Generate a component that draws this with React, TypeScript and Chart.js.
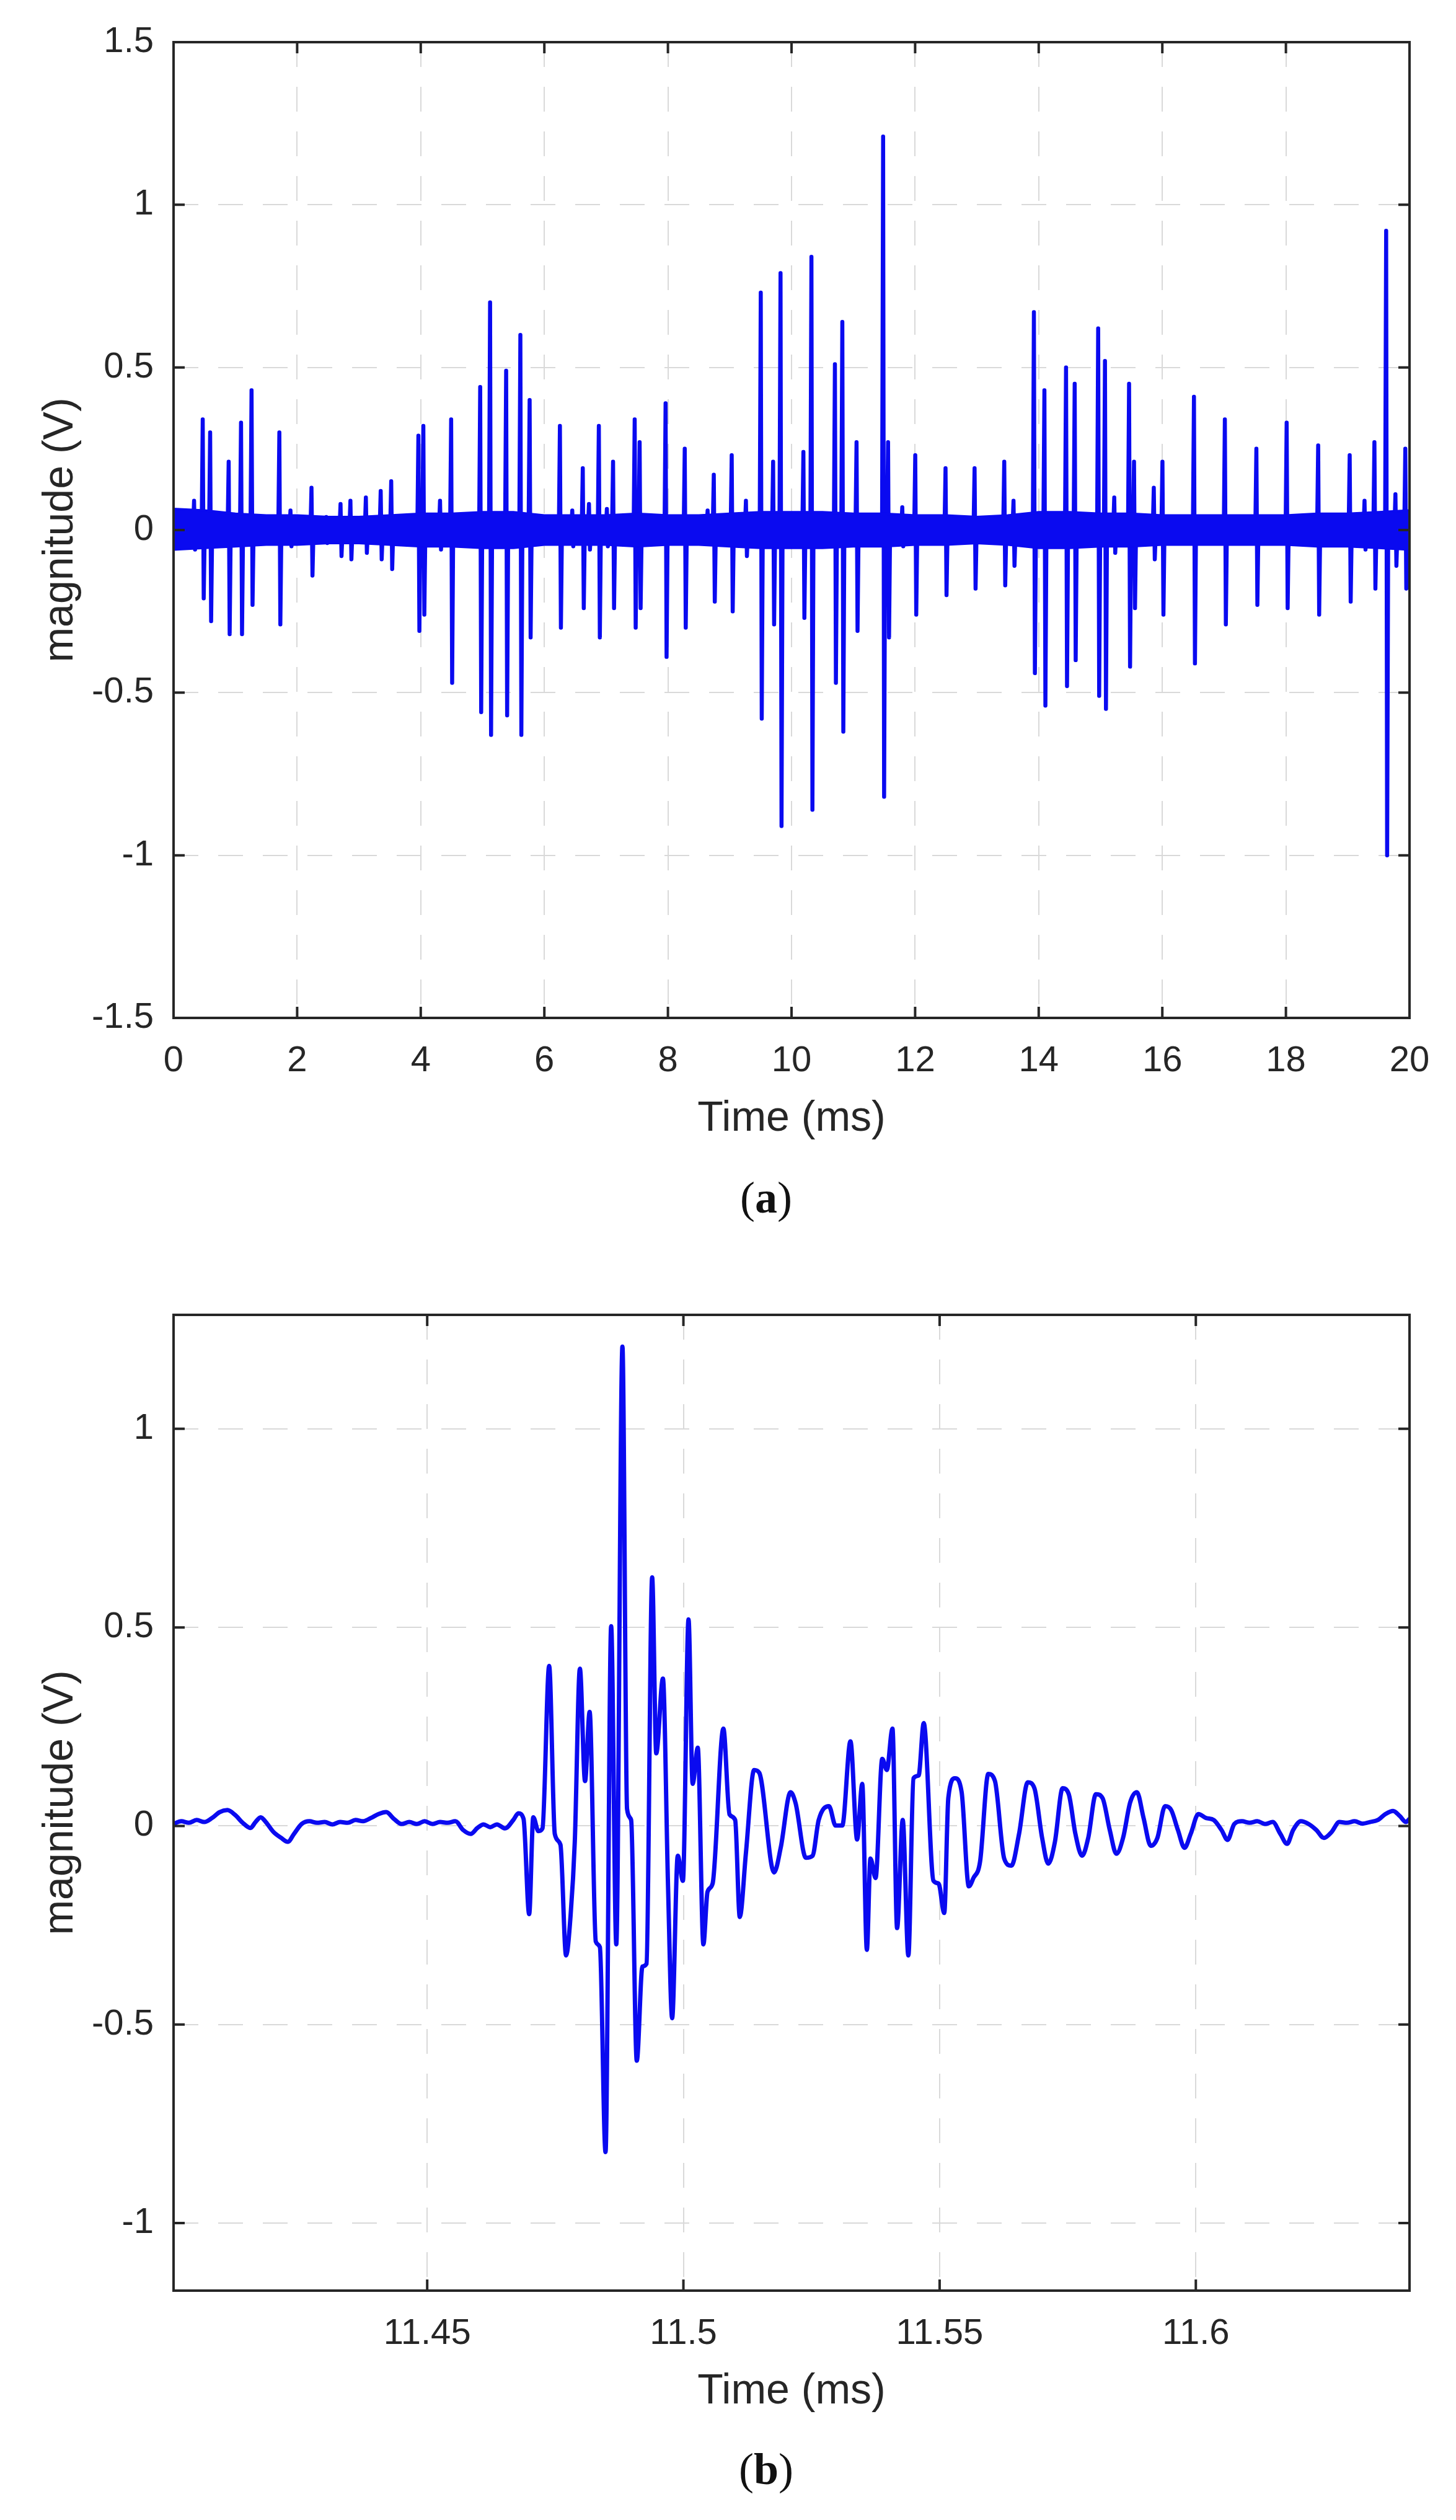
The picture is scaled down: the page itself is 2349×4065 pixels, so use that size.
import React, { useEffect, useRef } from "react";
import { Chart, registerables } from "chart.js";

Chart.register(...registerables);

// ---------------- Chart (a): 20 ms record ----------------
const xTicksA = [0, 2, 4, 6, 8, 10, 12, 14, 16, 18, 20];
const xTickLabelsA = ["0", "2", "4", "6", "8", "10", "12", "14", "16", "18", "20"];
const yTicksA = [-1.5, -1, -0.5, 0, 0.5, 1, 1.5];
const yTickLabelsA = ["-1.5", "-1", "-0.5", "0", "0.5", "1", "1.5"];

// discharge pulses: time (ms), positive peak (V), negative peak (V)
const spikeTimesA = [
  0.34, 0.48, 0.6, 0.9, 1.1, 1.27, 1.72, 1.9, 2.24, 2.48, 2.71, 2.87, 3.12, 3.36, 3.53,
  3.97, 4.05, 4.32, 4.5, 4.97, 5.13, 5.39, 5.62, 5.77, 6.26, 6.46, 6.63, 6.73, 6.89, 7.02,
  7.12, 7.47, 7.55, 7.97, 8.28, 8.65, 8.75, 9.04, 9.27, 9.51, 9.71, 9.83, 10.2, 10.33,
  10.71, 10.83, 11.06, 11.49, 11.57, 11.8, 12.01, 12.5, 12.97, 13.45, 13.6, 13.93, 14.1,
  14.45, 14.59, 14.97, 15.08, 15.23, 15.47, 15.55, 15.87, 16.01, 16.52, 17.02, 17.53,
  18.02, 18.53, 19.04, 19.28, 19.44, 19.63, 19.78, 19.94,
];
const spikePeaksA = [
  0.09, 0.34, 0.3, 0.21, 0.33, 0.43, 0.3, 0.06, 0.13, 0.04, 0.08, 0.09, 0.1, 0.12, 0.15,
  0.29, 0.32, 0.09, 0.34, 0.44, 0.7, 0.49, 0.6, 0.4, 0.32, 0.06, 0.19, 0.08, 0.32, 0.065,
  0.21, 0.34, 0.27, 0.39, 0.25, 0.06, 0.17, 0.23, 0.09, 0.73, 0.21, 0.79, 0.24, 0.84,
  0.51, 0.64, 0.27, 1.21, 0.27, 0.07, 0.23, 0.19, 0.19, 0.21, 0.09, 0.67, 0.43,
  0.5, 0.45, 0.62, 0.52, 0.1, 0.45, 0.21, 0.13, 0.21, 0.41, 0.34, 0.25,
  0.33, 0.26, 0.23, 0.09, 0.27, 0.92, 0.11, 0.25,
];
const spikeTroughsA = [
  -0.06, -0.21, -0.28, -0.32, -0.32, -0.23, -0.29, -0.05, -0.14, -0.04, -0.08, -0.09, -0.07, -0.09, -0.12,
  -0.31, -0.26, -0.06, -0.47, -0.56, -0.63, -0.57, -0.63, -0.33, -0.3, -0.05, -0.24, -0.06, -0.33, -0.05,
  -0.24, -0.3, -0.24, -0.39, -0.3, -0.04, -0.22, -0.25, -0.08, -0.58, -0.29, -0.91, -0.27, -0.86,
  -0.47, -0.62, -0.31, -0.82, -0.33, -0.05, -0.26, -0.2, -0.18, -0.17, -0.11, -0.44, -0.54,
  -0.48, -0.4, -0.51, -0.55, -0.07, -0.42, -0.24, -0.09, -0.26, -0.41, -0.29, -0.23,
  -0.24, -0.26, -0.22, -0.06, -0.18, -1.0, -0.11, -0.18,
];

// background noise envelope (V)
const bandTimesA = [
  0, 0.5, 1, 1.5, 2, 2.5, 3, 3.5, 4, 4.5, 5, 5.5, 6, 6.5, 7, 7.5, 8, 8.5, 9, 9.5, 10,
  10.5, 11, 11.5, 12, 12.5, 13, 13.5, 14, 14.5, 15, 15.5, 16, 16.5, 17, 17.5, 18, 18.5, 19, 19.5, 20,
];
const bandUpperA = [
  0.065, 0.06, 0.05, 0.045, 0.045, 0.04, 0.04, 0.045, 0.05, 0.05, 0.055, 0.055, 0.045, 0.045, 0.045,
  0.05, 0.045, 0.045, 0.05, 0.055, 0.055, 0.055, 0.05, 0.05, 0.045, 0.045, 0.04, 0.045, 0.055, 0.055,
  0.05, 0.05, 0.045, 0.045, 0.045, 0.045, 0.045, 0.05, 0.05, 0.055, 0.06,
];
const bandLowerA = [
  -0.06, -0.055, -0.05, -0.045, -0.045, -0.04, -0.04, -0.045, -0.05, -0.05, -0.055, -0.055, -0.045, -0.045, -0.045,
  -0.05, -0.045, -0.045, -0.05, -0.055, -0.055, -0.055, -0.05, -0.05, -0.045, -0.045, -0.04, -0.045, -0.055, -0.055,
  -0.05, -0.05, -0.045, -0.045, -0.045, -0.045, -0.045, -0.05, -0.05, -0.055, -0.06,
];

// ---------------- Chart (b): zoom on the largest pulse ----------------
const xRangeB = [11.4005, 11.6417];
const yRangeB = [-1.17, 1.287];
const xTicksB = [11.45, 11.5, 11.55, 11.6];
const xTickLabelsB = ["11.45", "11.5", "11.55", "11.6"];
const yTicksB = [-1, -0.5, 0, 0.5, 1];
const yTickLabelsB = ["-1", "-0.5", "0", "0.5", "1"];

const timesB = [
  11.4005, 11.402, 11.4035, 11.405, 11.4065, 11.408, 11.4095, 11.411, 11.4125, 11.414,
  11.4155, 11.4165, 11.4175, 11.4185, 11.42, 11.4215, 11.4228, 11.424, 11.4255, 11.427,
  11.4285, 11.43, 11.4315, 11.433, 11.4345, 11.436, 11.4375, 11.439, 11.4405, 11.442,
  11.4435, 11.445, 11.4465, 11.448, 11.4495, 11.451, 11.4525, 11.454, 11.4555, 11.457,
  11.4585, 11.4598,
  11.461, 11.4623, 11.4636, 11.4652, 11.4668, 11.4678, 11.4688, 11.4699, 11.4707, 11.4717,
  11.4725, 11.4738, 11.4749, 11.476, 11.4771, 11.478, 11.4788, 11.4798, 11.4808, 11.4817,
  11.4829, 11.4837, 11.4848, 11.4859, 11.4869, 11.4881, 11.489, 11.4898, 11.4909, 11.492,
  11.4928, 11.4939, 11.4947, 11.496, 11.497, 11.4978, 11.4989, 11.4999, 11.501, 11.5018,
  11.5028, 11.5039, 11.5047, 11.5057, 11.5078, 11.509, 11.5101, 11.511, 11.5122, 11.5138,
  11.5148, 11.5177, 11.519, 11.5209, 11.5219, 11.5239, 11.5252, 11.5264, 11.5284, 11.5297,
  11.531, 11.5326, 11.5339, 11.5349, 11.5358, 11.5365, 11.5375, 11.5388, 11.5397, 11.5408,
  11.5417, 11.5428, 11.5439, 11.5449, 11.5459, 11.5469, 11.5488, 11.5498, 11.5509, 11.5517,
  11.553, 11.5543, 11.5557, 11.5566, 11.5579, 11.5595, 11.5608, 11.5626,
  11.564, 11.5655, 11.5672, 11.5685, 11.57, 11.5712, 11.5725, 11.574, 11.5752, 11.5765,
  11.5778, 11.579, 11.5805, 11.5818, 11.5832, 11.5845, 11.5858, 11.5872, 11.5885, 11.5898,
  11.5912, 11.5925, 11.594, 11.5952, 11.5965, 11.5978, 11.599, 11.6005, 11.602, 11.6035,
  11.605, 11.6062, 11.6075, 11.609, 11.6105, 11.612, 11.6135, 11.615, 11.6165, 11.6178,
  11.619, 11.6205, 11.622, 11.6235, 11.625, 11.6265, 11.628, 11.6295, 11.631, 11.6325,
  11.634, 11.6355, 11.637, 11.6385, 11.6398, 11.641, 11.6417,
];
const valuesB = [
  0.005, 0.012, 0.008, 0.015, 0.01, 0.02, 0.035, 0.04, 0.028, 0.008,
  -0.005, 0.01, 0.022, 0.01, -0.015, -0.03, -0.04, -0.02, 0.005, 0.012,
  0.008, 0.01, 0.004, 0.01, 0.008, 0.015, 0.012, 0.02, 0.03, 0.035,
  0.018, 0.005, 0.01, 0.005, 0.012, 0.005, 0.01, 0.008, 0.012, -0.01,
  -0.02, -0.005,
  0.004, -0.003, 0.004, -0.006, 0.015, 0.032, 0.018, -0.222, 0.022, -0.013,
  -0.006, 0.403, -0.02, -0.047, -0.326, -0.222, -0.04, 0.396, 0.113, 0.287,
  -0.291, -0.305, -0.821, 0.503, -0.298, 1.207, 0.043, 0.015, -0.591, -0.354,
  -0.347, 0.626, 0.183, 0.371, -0.152, -0.484, -0.075, -0.138, 0.52, 0.106,
  0.197, -0.298, -0.166, -0.145, 0.245, 0.029, 0.015, -0.229, -0.068, 0.141,
  0.134, -0.117, -0.054, 0.085, 0.057, -0.08, -0.075, 0.015, 0.05, 0.001,
  0.001, 0.213, -0.034, 0.106, -0.312, -0.082, -0.131, 0.169, 0.141, 0.245,
  -0.257, 0.015, -0.326, 0.12, 0.127, 0.259, -0.138, -0.145, -0.219, 0.071,
  0.12, 0.085, -0.152, -0.131, -0.089, 0.131, 0.113, -0.082,
  -0.1, -0.02, 0.11, 0.095, -0.03, -0.095, -0.04, 0.095, 0.08, -0.02,
  -0.075, -0.03, 0.08, 0.07, -0.01, -0.07, -0.03, 0.06, 0.085, 0.02,
  -0.05, -0.03, 0.05, 0.04, -0.01, -0.055, -0.02, 0.03, 0.02, 0.015,
  -0.01, -0.035, 0.005, 0.012, 0.008, 0.012, 0.005, 0.01, -0.02, -0.045,
  -0.01, 0.012, 0.005, -0.01, -0.03, -0.015, 0.01, 0.008, 0.012, 0.006,
  0.01, 0.015, 0.03, 0.038, 0.025, 0.01, 0.018,
];

// ---------------- styling ----------------
const BLUE = "#0a0af0";
const AXIS_COLOR = "#262626";
const GRID_COLOR = "#d9d9d9";
const FONT = "'Liberation Sans', Arial, Helvetica, sans-serif";
const TICK_LEN = 18;

const framePlugin = {
  id: "matlabFrame",
  afterDraw(chart: any) {
    const { ctx, chartArea } = chart;
    const { left, right, top, bottom } = chartArea;
    const xs = chart.scales.x;
    const ys = chart.scales.y;
    ctx.save();
    ctx.strokeStyle = AXIS_COLOR;
    ctx.lineWidth = 4;
    ctx.beginPath();
    xs.ticks.forEach((t: any) => {
      const px = xs.getPixelForValue(t.value);
      ctx.moveTo(px, bottom);
      ctx.lineTo(px, bottom - TICK_LEN);
      ctx.moveTo(px, top);
      ctx.lineTo(px, top + TICK_LEN);
    });
    ys.ticks.forEach((t: any) => {
      const py = ys.getPixelForValue(t.value);
      ctx.moveTo(left, py);
      ctx.lineTo(left + TICK_LEN, py);
      ctx.moveTo(right, py);
      ctx.lineTo(right - TICK_LEN, py);
    });
    ctx.stroke();
    ctx.strokeRect(left, top, right - left, bottom - top);
    ctx.restore();
  },
};

function makeScales(p: {
  xMin: number; xMax: number; yMin: number; yMax: number;
  xTicks: number[]; xLabels: string[]; yTicks: number[]; yLabels: string[];
  xAxisHeight: number; xTitlePadBottom: number;
}) {
  const gridCommon = { color: GRID_COLOR, lineWidth: 2, drawTicks: false };
  const borderCommon = { display: false, dash: [40, 32] };
  return {
    x: {
      type: "linear",
      min: p.xMin,
      max: p.xMax,
      grid: gridCommon,
      border: borderCommon,
      afterBuildTicks: (s: any) => { s.ticks = p.xTicks.map((v) => ({ value: v })); },
      afterFit: (s: any) => { s.height = p.xAxisHeight; },
      ticks: {
        autoSkip: false,
        maxRotation: 0,
        padding: 35,
        color: AXIS_COLOR,
        font: { family: FONT, size: 58 },
        callback: (_v: any, i: number) => p.xLabels[i],
      },
      title: {
        display: true,
        text: "Time (ms)",
        color: AXIS_COLOR,
        font: { family: FONT, size: 68 },
        padding: { top: 0, bottom: p.xTitlePadBottom },
      },
    },
    y: {
      type: "linear",
      min: p.yMin,
      max: p.yMax,
      grid: gridCommon,
      border: borderCommon,
      afterBuildTicks: (s: any) => { s.ticks = p.yTicks.map((v) => ({ value: v })); },
      afterFit: (s: any) => { s.width = 280; },
      ticks: {
        autoSkip: false,
        padding: 32,
        color: AXIS_COLOR,
        font: { family: FONT, size: 58 },
        callback: (_v: any, i: number) => p.yLabels[i],
      },
      title: {
        display: true,
        text: "magnitude (V)",
        color: AXIS_COLOR,
        font: { family: FONT, size: 68 },
        padding: { top: 57, bottom: 0 },
      },
    },
  };
}

const W = 2349;
const A_TOP = 0;
const A_H = 1860;
const B_TOP = 1980;
const B_H = 1940;

function ChartA() {
  const ref = useRef<HTMLCanvasElement | null>(null);
  useEffect(() => {
    if (!ref.current) return;
    const spikes: { x: number; y: number }[] = [];
    spikeTimesA.forEach((t, i) => {
      spikes.push({ x: t - 0.025, y: 0 });
      spikes.push({ x: t - 0.008, y: spikePeaksA[i] });
      spikes.push({ x: t + 0.008, y: spikeTroughsA[i] });
      spikes.push({ x: t + 0.025, y: 0 });
    });
    const upper = bandTimesA.map((t, i) => ({ x: t, y: bandUpperA[i] }));
    const lower = bandTimesA.map((t, i) => ({ x: t, y: bandLowerA[i] }));
    const chart = new Chart(ref.current, {
      type: "line",
      data: {
        datasets: [
          { data: upper, borderColor: BLUE, backgroundColor: BLUE, borderWidth: 4, pointRadius: 0, fill: "+1", tension: 0 },
          { data: lower, borderColor: BLUE, backgroundColor: BLUE, borderWidth: 4, pointRadius: 0, fill: false, tension: 0 },
          { data: spikes, borderColor: BLUE, borderWidth: 6.5, pointRadius: 0, fill: false, tension: 0, borderJoinStyle: "round" },
        ],
      } as any,
      options: {
        animation: false,
        responsive: false,
        devicePixelRatio: 1,
        layout: { padding: { top: 68, right: W - 2274, bottom: 0, left: 0 } },
        plugins: { legend: { display: false }, tooltip: { enabled: false } },
        scales: makeScales({
          xMin: 0, xMax: 20, yMin: -1.5, yMax: 1.5,
          xTicks: xTicksA, xLabels: xTickLabelsA, yTicks: yTicksA, yLabels: yTickLabelsA,
          xAxisHeight: A_H - (1642 - A_TOP), xTitlePadBottom: 14,
        }),
      } as any,
      plugins: [framePlugin],
    });
    return () => chart.destroy();
  }, []);
  return (
    <canvas
      ref={ref}
      width={W}
      height={A_H}
      style={{ position: "absolute", left: 0, top: A_TOP, width: W, height: A_H }}
    />
  );
}

function ChartB() {
  const ref = useRef<HTMLCanvasElement | null>(null);
  useEffect(() => {
    if (!ref.current) return;
    const wave = timesB.map((t, i) => ({ x: t, y: valuesB[i] }));
    const chart = new Chart(ref.current, {
      type: "line",
      data: {
        datasets: [
          {
            data: wave, borderColor: BLUE, borderWidth: 7, pointRadius: 0, fill: false,
            cubicInterpolationMode: "monotone", borderJoinStyle: "round",
          },
        ],
      } as any,
      options: {
        animation: false,
        responsive: false,
        devicePixelRatio: 1,
        layout: { padding: { top: 2121 - B_TOP, right: W - 2274, bottom: 0, left: 0 } },
        plugins: { legend: { display: false }, tooltip: { enabled: false } },
        scales: makeScales({
          xMin: xRangeB[0], xMax: xRangeB[1], yMin: yRangeB[0], yMax: yRangeB[1],
          xTicks: xTicksB, xLabels: xTickLabelsB, yTicks: yTicksB, yLabels: yTickLabelsB,
          xAxisHeight: B_H - (3695 - B_TOP), xTitlePadBottom: 21,
        }),
      } as any,
      plugins: [framePlugin],
    });
    return () => chart.destroy();
  }, []);
  return (
    <canvas
      ref={ref}
      width={W}
      height={B_H}
      style={{ position: "absolute", left: 0, top: B_TOP, width: W, height: B_H }}
    />
  );
}

const captionStyle: React.CSSProperties = {
  position: "absolute",
  left: 1236,
  transform: "translateX(-50%)",
  fontFamily: "'Liberation Serif', 'Times New Roman', serif",
  fontSize: 72,
  lineHeight: "72px",
  color: "#111",
  whiteSpace: "nowrap",
};

export default function App() {
  return (
    <div style={{ position: "absolute", left: 0, top: 0, width: W, height: 4065, background: "#ffffff", overflow: "hidden" }}>
      <ChartA />
      <ChartB />
      <div style={{ ...captionStyle, top: 1932 - 36 }}>
        (<b>a</b>)
      </div>
      <div style={{ ...captionStyle, top: 3983 - 36 }}>
        (<b>b</b>)
      </div>
    </div>
  );
}
